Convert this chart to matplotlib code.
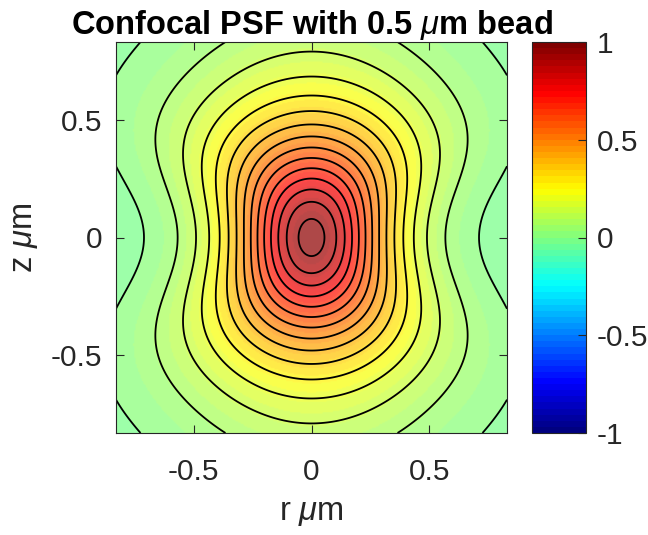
import numpy as np
import matplotlib
matplotlib.use('Agg')
import matplotlib.pyplot as plt
from matplotlib.cm import ScalarMappable
from matplotlib.colors import Normalize, LinearSegmentedColormap

# axis range (um)
r_lim = 0.83
z_lim = 0.83

# contour levels, steps of 1/15 from 0
levels = [0.0, 0.0667, 0.1333, 0.2, 0.2667, 0.3333, 0.4, 0.4667,
          0.5333, 0.6, 0.6667, 0.7333, 0.8, 0.8667, 0.9333]

# PSF model parameters
peak = 0.96        # value at the centre
offset = 0.05      # negative background far from the bead
lat_width = 0.672  # lateral width (um)
ax_width = 0.68    # axial width (um)
defocus = 0.5      # z where the lateral width starts to grow (um)
max_spread = 1.9   # lateral width far from focus, relative to focus

x_ticks = [-0.5, 0, 0.5]
y_ticks = [-0.5, 0, 0.5]
tick_labels = ['-0.5', '0', '0.5']
cbar_ticks = [-1, -0.5, 0, 0.5, 1]
cbar_labels = ['-1', '-0.5', '0', '0.5', '1']

plt.rcParams['font.family'] = 'Liberation Sans'
plt.rcParams['mathtext.fontset'] = 'custom'
plt.rcParams['mathtext.rm'] = 'Liberation Sans'
plt.rcParams['mathtext.it'] = 'Liberation Sans:italic'

# field: confocal PSF smeared by the bead
r = np.linspace(-r_lim, r_lim, 301)
z = np.linspace(-z_lim, z_lim, 301)
R, Z = np.meshgrid(r, z)
spread = 1 + (max_spread - 1) * (1 - np.exp(-(Z / defocus) ** 2))
width = lat_width * spread
axial = (1 + (Z / ax_width) ** 2) ** -2
psf = (peak + offset) * axial * (1 + (R / width) ** 2) ** -4 - offset

# matlab style jet, 64 colours
jet_pos = [0, 1/8, 3/8, 5/8, 7/8, 1]
jet_col = [(0, 0, 0.5), (0, 0, 1), (0, 1, 1), (1, 1, 0), (1, 0, 0), (0.5, 0, 0)]
cmap = LinearSegmentedColormap.from_list('mjet', list(zip(jet_pos, jet_col)), N=64)
norm = Normalize(vmin=-1, vmax=1)
grey = (0.15, 0.15, 0.15)

fig = plt.figure(figsize=(6.48, 5.35), dpi=100)
ax = fig.add_axes([116/648, 102/535, 391/648, 391/535])
ax.imshow(psf, extent=[-r_lim, r_lim, -z_lim, z_lim], origin='lower',
          cmap=cmap, norm=norm, alpha=0.72, aspect='auto', interpolation='bilinear')
ax.contour(R, Z, psf, levels=levels, colors='k', linewidths=1.3)
ax.set_xlim(-r_lim, r_lim)
ax.set_ylim(-z_lim, z_lim)
ax.set_xticks(x_ticks)
ax.set_xticklabels(tick_labels)
ax.set_yticks(y_ticks)
ax.set_yticklabels(tick_labels)
ax.tick_params(direction='in', length=6, width=0.8, top=True, right=True,
               labelsize=21.4, colors=grey, pad=10)
ax.tick_params(axis='x', pad=18)
for s in ax.spines.values():
    s.set_color(grey)
ax.set_xlabel(r'r $\mu$m', fontsize=23.5, color=grey, labelpad=8)
ax.set_ylabel(r'z $\mu$m', fontsize=23.5, color=grey, labelpad=8)
ax.set_title(r'Confocal PSF with 0.5 $\mu$m bead', fontsize=23.5,
             fontweight='bold', pad=6)

cax = fig.add_axes([532/648, 102/535, 54/648, 391/535])
cb = fig.colorbar(ScalarMappable(norm=norm, cmap=cmap), cax=cax, ticks=cbar_ticks)
cb.ax.set_yticklabels(cbar_labels)
cb.ax.tick_params(direction='in', length=6, width=0.8, labelsize=21.4,
                  colors=grey, pad=8)
cb.outline.set_edgecolor(grey)

fig.savefig('out.png', dpi=100)
